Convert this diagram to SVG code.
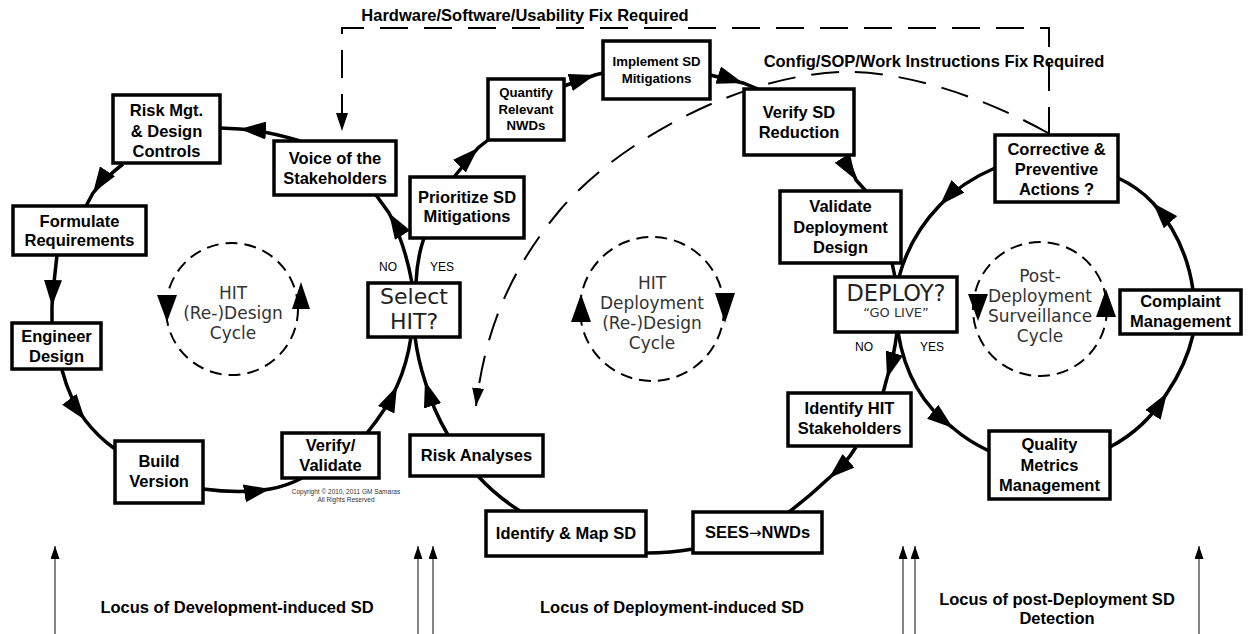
<svg xmlns="http://www.w3.org/2000/svg" width="1249" height="634" viewBox="0 0 1249 634">
<defs>
<style>
.box{fill:#fff;stroke:#000;stroke-width:3.5}
.bt{font-family:"Liberation Sans",Arial,sans-serif;font-weight:bold;font-size:16.5px;text-anchor:middle;fill:#000}
.bts{font-size:13.2px}
.conn{fill:none;stroke:#000;stroke-width:3.5;marker-mid:url(#am)}
.plain{fill:none;stroke:#000;stroke-width:3.5}
.dash{fill:none;stroke:#000;stroke-width:2;stroke-dasharray:28 16;marker-end:url(#ad)}
.cyc{fill:none;stroke:#000;stroke-width:2;stroke-dasharray:12 7}
.ct{font-family:"DejaVu Sans",sans-serif;font-size:17px;fill:#333;text-anchor:middle}
.big{font-family:"DejaVu Sans",sans-serif;font-size:22px;fill:#222;text-anchor:middle}
.lbl{font-family:"Liberation Sans",Arial,sans-serif;font-size:12px;text-anchor:middle;fill:#000}
.up{stroke:#444;stroke-width:1.3;marker-end:url(#at)}
.tri{fill:#000}
</style>
<marker id="am" markerUnits="userSpaceOnUse" markerWidth="26" markerHeight="18" viewBox="0 0 26 18" refX="26" refY="9" orient="auto"><path d="M0,0 L26,9 L0,18 z" fill="#000"/></marker>
<marker id="ad" markerUnits="userSpaceOnUse" markerWidth="18" markerHeight="12" viewBox="0 0 18 12" refX="18" refY="6" orient="auto"><path d="M0,0 L18,6 L0,12 z" fill="#000"/></marker>
<marker id="at" markerUnits="userSpaceOnUse" markerWidth="13" markerHeight="9" viewBox="0 0 13 9" refX="13" refY="4.5" orient="auto"><path d="M0,0 L13,4.5 L0,9 z" fill="#000"/></marker>
</defs>
<rect width="1249" height="634" fill="#fff"/>

<g id="connectors">
<path class="conn" d="M300,141 Q268,131 240,129 L220,128"/>
<path class="conn" d="M123,164 Q106,177 93,193 L86,206"/>
<path class="conn" d="M57,255 Q54,280 52,306 L52,323"/>
<path class="conn" d="M62,370 Q70,400 85,420 Q98,437 115,449"/>
<path class="conn" d="M203,489 Q240,494 270,489 Q287,486 302,478"/>
<path class="conn" d="M367,433 Q386,410 397,386 Q407,364 411,337"/>
<path class="conn" d="M448,435 Q433,410 425,381 Q418,360 415,337"/>
<path class="conn" d="M412,283 Q405,244 389,213 L376,195"/>
<path class="plain" d="M416,283 Q417,258 424,238"/>
<path class="conn" d="M454,177 L478,148 L488,140"/>
<path class="conn" d="M564,86 L595,75 L603,73"/>
<path class="conn" d="M710,75 L743,83 L758,89"/>
<path class="conn" d="M846,155 L856,180 L866,191"/>
<path class="plain" d="M892,263 L895,277"/>
<path class="conn" d="M995,168 Q962,182 940,205 Q910,236 899,277"/>
<path class="conn" d="M1193,290 Q1186,240 1153,203 Q1138,187 1118,178"/>
<path class="conn" d="M897,332 Q894,357 887,378 L883,393"/>
<path class="conn" d="M898,332 Q908,395 953,428 Q968,441 989,451"/>
<path class="conn" d="M1110,447 Q1146,428 1167,393 Q1186,365 1193,335"/>
<path class="conn" d="M856,447 Q845,465 829,478 Q810,496 789,512"/>
<path class="plain" d="M693,549 Q670,553 647,553"/>
<path class="plain" d="M520,511 Q495,495 478,476"/>
<path class="dash" d="M1049,135 L1049,28 L342,28 L342,131"/>
<path class="dash" d="M1048,133 C980,95 900,70 840,72 C740,76 620,140 560,210 C510,270 485,330 476,406"/>
<line class="up" x1="55" y1="634" x2="55" y2="546"/>
<line class="up" x1="418" y1="634" x2="418" y2="546"/>
<line class="up" x1="433" y1="634" x2="433" y2="546"/>
<line class="up" x1="903" y1="634" x2="903" y2="546"/>
<line class="up" x1="915" y1="634" x2="915" y2="546"/>
<line class="up" x1="1199" y1="634" x2="1199" y2="546"/>
</g>

<g id="cycle-design">
<circle class="cyc" cx="232" cy="309" r="66"/>
<polygon class="tri" points="157,295 177,295 167,322"/>
<polygon class="tri" points="292,309 310,309 301,282"/>
<text class="ct" x="233" y="299">HIT</text>
<text class="ct" x="233" y="319">(Re-)Design</text>
<text class="ct" x="233" y="339">Cycle</text>
</g>

<g id="cycle-deployment">
<circle class="cyc" cx="652" cy="309" r="72"/>
<polygon class="tri" points="571,322 591,322 581,294"/>
<polygon class="tri" points="715,293 735,293 725,323"/>
<text class="ct" x="652" y="289">HIT</text>
<text class="ct" x="652" y="309">Deployment</text>
<text class="ct" x="652" y="329">(Re-)Design</text>
<text class="ct" x="652" y="349">Cycle</text>
</g>

<g id="cycle-surveillance">
<circle class="cyc" cx="1040" cy="309" r="67"/>
<polygon class="tri" points="968,294 988,294 978,321"/>
<polygon class="tri" points="1096,317 1116,317 1106,289"/>
<text class="ct" x="1040" y="282">Post-</text>
<text class="ct" x="1040" y="302">Deployment</text>
<text class="ct" x="1040" y="322">Surveillance</text>
<text class="ct" x="1040" y="342">Cycle</text>
</g>

<g id="risk-mgt"><rect class="box" x="113" y="95" width="107" height="68"/>
<text class="bt" x="166.5" y="116">Risk Mgt.</text><text class="bt" x="166.5" y="136.5">&amp; Design</text><text class="bt" x="166.5" y="157">Controls</text></g>
<g id="voice"><rect class="box" x="274" y="141" width="122" height="54"/>
<text class="bt" x="335" y="164">Voice of the</text><text class="bt" x="335" y="183.5">Stakeholders</text></g>
<g id="formulate"><rect class="box" x="13" y="206" width="133" height="49"/>
<text class="bt" x="79.5" y="227">Formulate</text><text class="bt" x="79.5" y="246">Requirements</text></g>
<g id="engineer"><rect class="box" x="12" y="323" width="89" height="46"/>
<text class="bt" x="56.5" y="342">Engineer</text><text class="bt" x="56.5" y="362">Design</text></g>
<g id="build"><rect class="box" x="115" y="441" width="88" height="62"/>
<text class="bt" x="159" y="467">Build</text><text class="bt" x="159" y="487">Version</text></g>
<g id="verify-validate"><rect class="box" x="282" y="433" width="97" height="45"/>
<text class="bt" x="330.5" y="451">Verify/</text><text class="bt" x="330.5" y="471">Validate</text></g>
<g id="copyright">
<text x="346" y="494" style="font-family:'Liberation Sans',Arial,sans-serif;font-size:6.5px;text-anchor:middle;fill:#333">Copyright © 2010, 2011 GM Samaras</text>
<text x="346" y="502" style="font-family:'Liberation Sans',Arial,sans-serif;font-size:6.5px;text-anchor:middle;fill:#333">All Rights Reserved</text>
</g>
<g id="select-hit"><rect class="box" x="368" y="283" width="92" height="54"/>
<text class="big" x="414" y="304">Select</text><text class="big" x="414" y="329">HIT?</text></g>
<g id="labels-select">
<text class="lbl" x="388" y="271">NO</text><text class="lbl" x="442" y="271">YES</text></g>
<g id="prioritize"><rect class="box" x="410" y="177" width="114" height="61"/>
<text class="bt" x="467" y="203">Prioritize SD</text><text class="bt" x="467" y="222">Mitigations</text></g>
<g id="quantify"><rect class="box" x="488" y="79" width="76" height="61"/>
<text class="bt bts" x="526" y="97">Quantify</text><text class="bt bts" x="526" y="114">Relevant</text><text class="bt bts" x="526" y="130">NWDs</text></g>
<g id="implement"><rect class="box" x="603" y="41" width="107" height="58"/>
<text class="bt bts" x="656.5" y="66">Implement SD</text><text class="bt bts" x="656.5" y="83">Mitigations</text></g>
<g id="verify-sd"><rect class="box" x="744" y="89" width="110" height="66"/>
<text class="bt" x="799" y="118">Verify SD</text><text class="bt" x="799" y="138">Reduction</text></g>
<g id="validate-deployment"><rect class="box" x="780" y="191" width="121" height="72"/>
<text class="bt" x="840.5" y="212">Validate</text><text class="bt" x="840.5" y="232.5">Deployment</text><text class="bt" x="840.5" y="253">Design</text></g>
<g id="deploy"><rect class="box" x="835" y="277" width="122" height="55"/>
<text class="big" x="896" y="301" style="font-size:22.5px">DEPLOY?</text>
<text x="896" y="317" style="font-family:'DejaVu Sans',sans-serif;font-size:13px;fill:#333;text-anchor:middle">“GO LIVE”</text></g>
<g id="labels-deploy">
<text class="lbl" x="864" y="351">NO</text><text class="lbl" x="932" y="351">YES</text></g>
<g id="corrective"><rect class="box" x="995" y="135" width="123" height="67"/>
<text class="bt" x="1056.5" y="155">Corrective &amp;</text><text class="bt" x="1056.5" y="175">Preventive</text><text class="bt" x="1056.5" y="195">Actions ?</text></g>
<g id="complaint"><rect class="box" x="1120" y="290" width="121" height="44"/>
<text class="bt" x="1180.5" y="307">Complaint</text><text class="bt" x="1180.5" y="327">Management</text></g>
<g id="quality"><rect class="box" x="989" y="431" width="121" height="68"/>
<text class="bt" x="1049.5" y="450">Quality</text><text class="bt" x="1049.5" y="470.5">Metrics</text><text class="bt" x="1049.5" y="491">Management</text></g>
<g id="identify-hit"><rect class="box" x="788" y="393" width="123" height="53"/>
<text class="bt" x="849.5" y="414">Identify HIT</text><text class="bt" x="849.5" y="434">Stakeholders</text></g>
<g id="sees"><rect class="box" x="693" y="512" width="129" height="41"/>
<text class="bt" x="757.5" y="538">SEES<tspan style="font-family:'DejaVu Sans',sans-serif;font-weight:normal;font-size:15px">→</tspan>NWDs</text></g>
<g id="identify-map"><rect class="box" x="486" y="511" width="160" height="45"/>
<text class="bt" x="566" y="539">Identify &amp; Map SD</text></g>
<g id="risk-analyses"><rect class="box" x="410" y="435" width="133" height="41"/>
<text class="bt" x="476.5" y="461">Risk Analyses</text></g>

<g id="titles">
<text class="bt" x="525" y="21">Hardware/Software/Usability Fix Required</text>
<text class="bt" x="934" y="67">Config/SOP/Work Instructions Fix Required</text>
<text class="bt" x="237" y="613">Locus of Development-induced SD</text>
<text class="bt" x="672" y="613">Locus of Deployment-induced SD</text>
<text class="bt" x="1057" y="605">Locus of post-Deployment SD</text>
<text class="bt" x="1057" y="624">Detection</text>
</g>
</svg>
